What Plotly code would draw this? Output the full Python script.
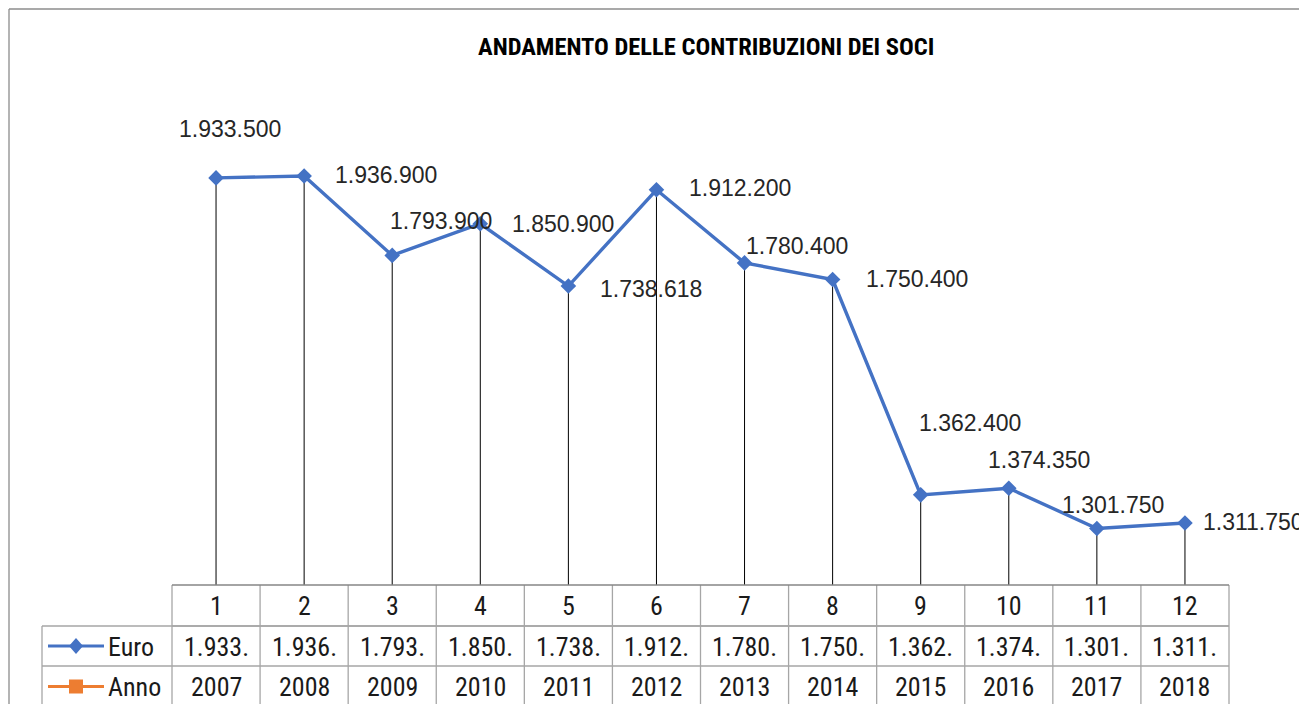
import plotly.graph_objects as go

# ---- data ----
categories = [1, 2, 3, 4, 5, 6, 7, 8, 9, 10, 11, 12]
euro = [1933500, 1936900, 1793900, 1850900, 1738618, 1912200,
        1780400, 1750400, 1362400, 1374350, 1301750, 1311750]
anno = [2007, 2008, 2009, 2010, 2011, 2012, 2013, 2014, 2015, 2016, 2017, 2018]
title_text = "ANDAMENTO DELLE CONTRIBUZIONI DEI SOCI"
series_names = ["Euro", "Anno"]

# ---- layout geometry (page pixels; the page body adds an 8px offset) ----
OFF = 8
W, H = 1307 - OFF, 704 - OFF
L, R, T, B = 172, 1229, 141, 585
Y_MIN, Y_MAX = 1200000, 2000000
BLUE = "#4472C4"
ORANGE = "#ED7D31"
GRID = "#A6A6A6"
TXT = "#262626"
NARROW = "Roboto Condensed, DejaVu Sans Condensed, sans-serif"
LABEL_FONT = "Liberation Sans, Arial, sans-serif"


def px(xp):
    return (xp - L) / (R - L)


def py(yp):
    return (B - yp) / (B - T)


def fmt(v):
    return f"{v:,}".replace(",", ".")


xs = list(range(len(categories)))

fig = go.Figure()

# drop lines
dx, dy = [], []
for i, v in zip(xs, euro):
    dx += [i, i, None]
    dy += [v, Y_MIN, None]
fig.add_trace(go.Scatter(x=dx, y=dy, mode="lines",
                         line=dict(color="black", width=1),
                         hoverinfo="skip", showlegend=False))

# main series
fig.add_trace(go.Scatter(x=xs, y=euro, mode="lines+markers", name=series_names[0],
                         line=dict(color=BLUE, width=3.4),
                         marker=dict(symbol="diamond", size=12, color=BLUE),
                         showlegend=False))
# second series (falls far below the visible range, as in the original)
fig.add_trace(go.Scatter(x=xs, y=anno, mode="lines+markers", name=series_names[1],
                         line=dict(color=ORANGE, width=3),
                         marker=dict(symbol="square", size=9, color=ORANGE),
                         showlegend=False))

# data labels offsets (style)
offsets = [(14, 49), (82, 1), (49, 34), (83, 0), (83, -3), (84, 2),
           (52, 17), (84, 1), (49, 72), (30, 28), (16, 24), (69, 1)]
annotations = []
for i, v, (ox, oy) in zip(xs, euro, offsets):
    annotations.append(dict(x=i, y=v, xref="x", yref="y", text=fmt(v),
                            showarrow=False, xshift=ox, yshift=oy,
                            font=dict(family=LABEL_FONT, size=23, color=TXT)))

# ---- data table ----
shapes = []
rows_y = [585, 626, 666, 707]
left_key = 42
n = len(categories)
col_edges = [L + (R - L) * k / n for k in range(n + 1)]


def hline(x0, x1, y, color=GRID, w=1.3):
    shapes.append(dict(type="line", xref="paper", yref="paper",
                       x0=px(x0), x1=px(x1), y0=py(y), y1=py(y),
                       line=dict(color=color, width=w)))


def vline(x, y0, y1, color=GRID, w=1.3):
    shapes.append(dict(type="line", xref="paper", yref="paper",
                       x0=px(x), x1=px(x), y0=py(y0), y1=py(y1),
                       line=dict(color=color, width=w)))


hline(L, R, rows_y[1])
hline(left_key, R, rows_y[1])
hline(left_key, R, rows_y[2])
for e in col_edges:
    vline(e, rows_y[0], rows_y[3])
vline(left_key, rows_y[1], rows_y[3])
# axis line at the top of the table
hline(L, R, rows_y[0], color="#868686", w=1.6)

cell_font = dict(family=NARROW, size=26, color="#1a1a1a")
for k in range(n):
    cx = (col_edges[k] + col_edges[k + 1]) / 2
    for row, txt in enumerate([str(categories[k]), fmt(euro[k])[:6], str(anno[k])]):
        cy = (rows_y[row] + rows_y[row + 1]) / 2 + 0.5
        annotations.append(dict(x=px(cx), y=py(cy), xref="paper", yref="paper",
                                text=txt, showarrow=False, font=cell_font,
                                xanchor="center", yanchor="middle"))

# legend keys inside the table
for row, (name, color, sym) in enumerate([(series_names[0], BLUE, "diamond"),
                                          (series_names[1], ORANGE, "square")]):
    cy = (rows_y[row + 1] + rows_y[row + 2]) / 2
    shapes.append(dict(type="line", xref="paper", yref="paper",
                       x0=px(48), x1=px(104), y0=py(cy), y1=py(cy),
                       line=dict(color=color, width=3)))
    if sym == "diamond":
        shapes.append(dict(type="path", xref="paper", yref="paper",
                           path=f"M {px(76)},{py(cy-8)} L {px(83)},{py(cy)} L {px(76)},{py(cy+8)} L {px(69)},{py(cy)} Z",
                           fillcolor=color, line=dict(color=color, width=0)))
    else:
        shapes.append(dict(type="rect", xref="paper", yref="paper",
                           x0=px(69), x1=px(83), y0=py(cy - 7), y1=py(cy + 7),
                           fillcolor=color, line=dict(color=color, width=0)))
    annotations.append(dict(x=px(106), y=py(cy + 0.5), xref="paper", yref="paper",
                            text=name, showarrow=False, font=cell_font,
                            xanchor="left", yanchor="middle"))

# chart border
shapes.append(dict(type="line", xref="paper", yref="paper",
                   x0=px(9), x1=px(1320), y0=py(9), y1=py(9),
                   line=dict(color="#8C8C8C", width=1.3)))
shapes.append(dict(type="line", xref="paper", yref="paper",
                   x0=px(9), x1=px(9), y0=py(9), y1=py(720),
                   line=dict(color="#8C8C8C", width=1.3)))

# title
annotations.append(dict(x=px(706), y=py(46), xref="paper", yref="paper",
                        text=f"<b>{title_text}</b>", showarrow=False,
                        font=dict(family=NARROW, size=24.5, color="black"),
                        xanchor="center", yanchor="middle"))

fig.update_layout(
    width=W, height=H,
    margin=dict(l=L - OFF, r=1307 - R, t=T - OFF, b=704 - B, pad=0),
    paper_bgcolor="white", plot_bgcolor="white",
    xaxis=dict(range=[-0.5, n - 0.5], visible=False, fixedrange=True),
    yaxis=dict(range=[Y_MIN, Y_MAX], visible=False, fixedrange=True),
    shapes=shapes, annotations=annotations,
    showlegend=False,
)

fig.write_html("out.html")
